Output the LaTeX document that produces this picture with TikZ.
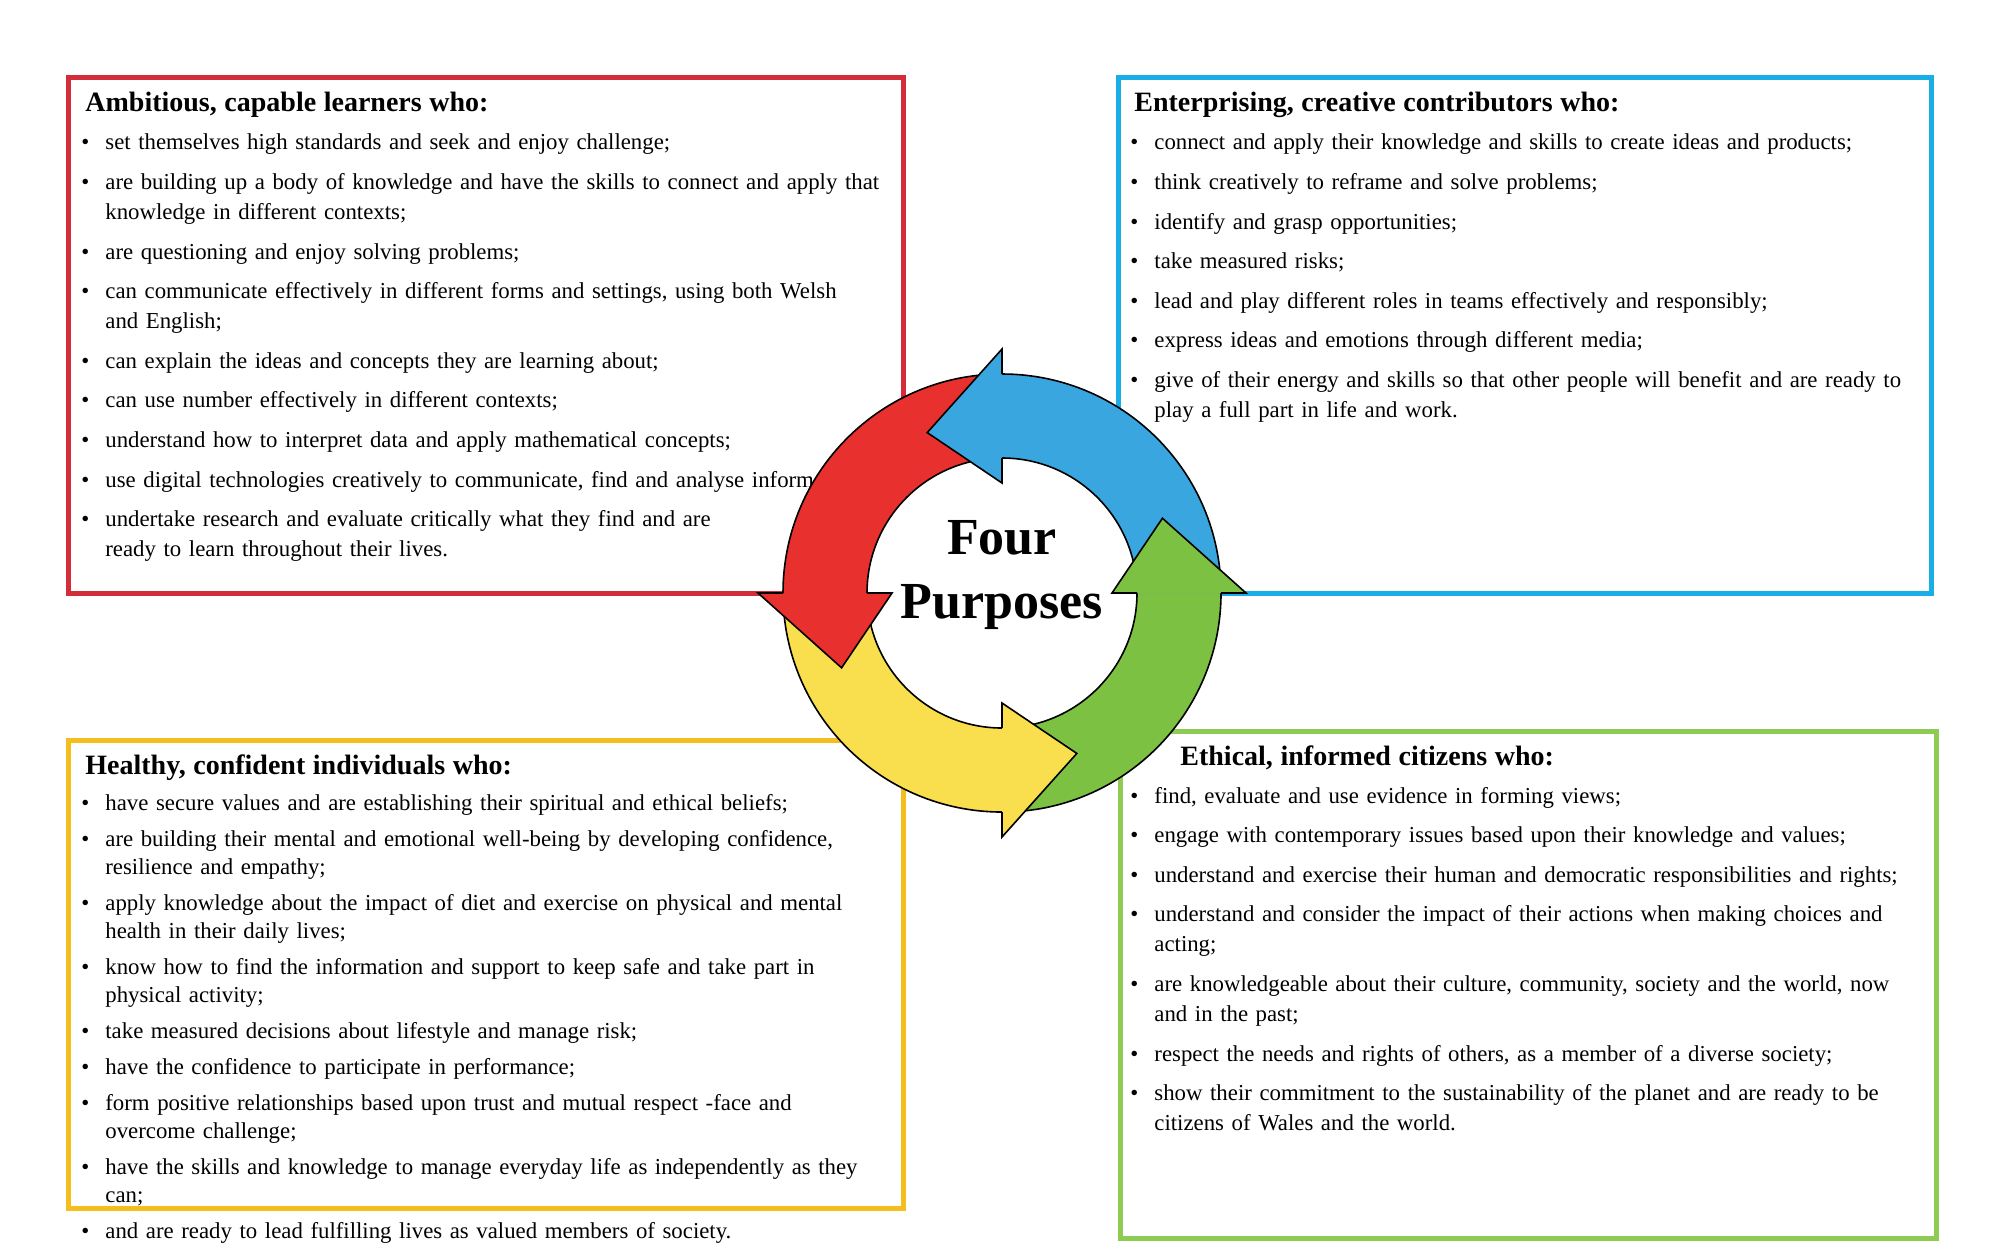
\documentclass[tikz,border=0pt]{standalone}
\usepackage{fontspec}
\setmainfont{Liberation Serif}
\usepackage{enumitem}
\definecolor{boxred}{HTML}{D42D3A}
\definecolor{boxblue}{HTML}{1AAEE6}
\definecolor{boxyellow}{HTML}{F3BE1E}
\definecolor{boxgreen}{HTML}{8DCB52}
\definecolor{arrred}{HTML}{E8312F}
\definecolor{arrblue}{HTML}{3AA6DF}
\definecolor{arryellow}{HTML}{F9DE4E}
\definecolor{arrgreen}{HTML}{7DC143}
\newcommand{\purposelist}[1]{\begin{itemize}[leftmargin=10pt,labelsep=8pt,topsep=4pt,itemsep=4.8pt,parsep=0pt,label=\textbullet]#1\end{itemize}}
\newcommand{\purposehead}[1]{{\fontsize{14}{15}\bfseries #1}}
\tikzset{
  purposebox/.style={line width=2.5pt},
  purposetext/.style={anchor=north west,inner sep=0pt,text width=#1,font=\fontsize{11.4}{15}\selectfont,align=left}
}
\begin{document}
\begin{tikzpicture}[x=0.5pt,y=-0.5pt]
   \useasboundingbox (0,0) rectangle (2000,1255);
   % the four boxes
   \draw [purposebox,boxred] (68,77) rectangle (903,593);
   \draw [purposebox,boxblue] (1118,77) rectangle (1931,593);
   \draw [purposebox,boxyellow] (68,740) rectangle (903,1208);
   \draw [purposebox,boxgreen] (1120,731) rectangle (1936,1238);

   \node [purposetext=460pt] (learners) at (85,92)
      {\purposehead{Ambitious, capable learners who:}
      \purposelist{
      \item set themselves high standards and seek and enjoy challenge;
      \item are building up a body of knowledge and have the skills to connect and apply that\newline knowledge in different contexts;
      \item are questioning and enjoy solving problems;
      \item can communicate effectively in different forms and settings, using both Welsh\newline and English;
      \item can explain the ideas and concepts they are learning about;
      \item can use number effectively in different contexts;
      \item understand how to interpret data and apply mathematical concepts;
      \item use digital technologies creatively to communicate, find and analyse information;
      \item undertake research and evaluate critically what they find and are\newline ready to learn throughout their lives.}};

   \node [purposetext=460pt] (contributors) at (1134,92)
      {\purposehead{Enterprising, creative contributors who:}
      \purposelist{
      \item connect and apply their knowledge and skills to create ideas and products;
      \item think creatively to reframe and solve problems;
      \item identify and grasp opportunities;
      \item take measured risks;
      \item lead and play different roles in teams effectively and responsibly;
      \item express ideas and emotions through different media;
      \item give of their energy and skills so that other people will benefit and are ready to\newline play a full part in life and work.}};

   \node [purposetext=460pt] (individuals) at (85,754)
      {\purposehead{Healthy, confident individuals who:}
      \fontsize{11.4}{14}\selectfont
      \begin{itemize}[leftmargin=10pt,labelsep=8pt,topsep=4pt,itemsep=4pt,parsep=0pt,label=\textbullet]
      \item have secure values and are establishing their spiritual and ethical beliefs;
      \item are building their mental and emotional well-being by developing confidence,\newline resilience and empathy;
      \item apply knowledge about the impact of diet and exercise on physical and mental\newline health in their daily lives;
      \item know how to find the information and support to keep safe and take part in\newline physical activity;
      \item take measured decisions about lifestyle and manage risk;
      \item have the confidence to participate in performance;
      \item form positive relationships based upon trust and mutual respect -face and\newline overcome challenge;
      \item have the skills and knowledge to manage everyday life as independently as they\newline can;
      \item and are ready to lead fulfilling lives as valued members of society.
      \end{itemize}};

   \node [purposetext=460pt] (citizens) at (1134,745)
      {\hspace*{23pt}\purposehead{Ethical, informed citizens who:}
      \purposelist{
      \item find, evaluate and use evidence in forming views;
      \item engage with contemporary issues based upon their knowledge and values;
      \item understand and exercise their human and democratic responsibilities and rights;
      \item understand and consider the impact of their actions when making choices and\newline acting;
      \item are knowledgeable about their culture, community, society and the world, now\newline and in the past;
      \item respect the needs and rights of others, as a member of a diverse society;
      \item show their commitment to the sustainability of the planet and are ready to be\newline citizens of Wales and the world.}};

   % the cycle of arrows
   \begin{scope}[shift={(1002,593)},x=0.5pt,y=0.5pt]
      \fill [white] (0,0) circle (219);
      \foreach \b/\c in {90/arrred,180/arryellow,270/arrgreen,0/arrblue} {
         \fill [\c] (\b:219) arc (\b:\b+90:219) -- (\b+90:135) arc (\b+90:\b:135) -- cycle;
         \draw [thick] (\b:219) arc (\b:\b+90:219);
         \draw [thick] (\b+90:135) arc (\b+90:\b:135);
      }
      \foreach \b/\c in {180/arrred,270/arryellow,0/arrgreen,90/arrblue} {
         \fill [\c] (\b:244) -- (\b+25:177) -- (\b:110) -- cycle;
         \draw [thick,line join=miter] (\b:219) -- (\b:244) -- (\b+25:177) -- (\b:110) -- (\b:135);
      }
      \node [font=\fontsize{26}{32}\bfseries\selectfont,align=center] (title) at (0,18) {Four\\Purposes};
   \end{scope}
\end{tikzpicture}
\end{document}
